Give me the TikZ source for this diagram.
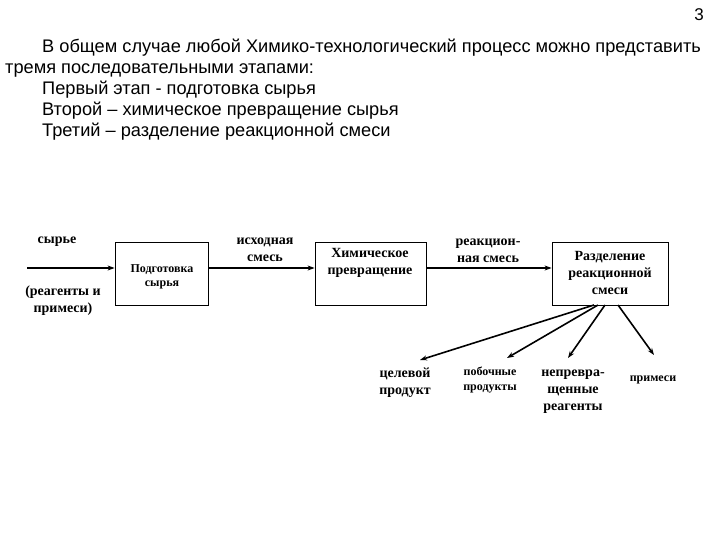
\documentclass[tikz,border=0pt]{standalone}
\usepackage{fontspec}
\setmainfont{Liberation Sans}
\newfontfamily\dfont{Liberation Serif}
\usetikzlibrary{arrows.meta}
\tikzset{
  box/.style={draw, line width=0.8pt, inner sep=0pt},
  arr/.style={line width=1.6pt, -{Stealth[length=7pt,width=5pt]}},
  lbl/.style={align=center, inner sep=0pt, font=\dfont\bfseries\fontsize{14}{17}\selectfont},
  slbl/.style={align=center, inner sep=0pt, font=\dfont\bfseries\fontsize{12}{14.5}\selectfont},
  para/.style={anchor=base west, inner sep=0pt, font=\fontsize{18.2}{21}\selectfont},
}
\begin{document}
\begin{tikzpicture}[x=1pt,y=-1pt]
\useasboundingbox (0,0) rectangle (720,540);
% header text
\node[anchor=base east, inner sep=0pt, font=\fontsize{17}{20}\selectfont] (pg) at (704,21) {3};
\node[para] (t1) at (42,53) {В общем случае любой Химико-технологический процесс можно представить};
\node[para] (t2) at (5,74) {тремя последовательными этапами:};
\node[para] (t3) at (42,95) {Первый этап - подготовка сырья};
\node[para] (t4) at (42,116) {Второй – химическое превращение сырья};
\node[para] (t5) at (42,137) {Третий – разделение реакционной смеси};
% boxes
\node[box, minimum width=93pt, minimum height=63pt] (b1) at (161.5,273.5) {};
\node[box, minimum width=111pt, minimum height=63pt] (b2) at (370.5,273.5) {};
\node[box, minimum width=116pt, minimum height=63pt] (b3) at (610,273.5) {};
\node[slbl] (b1t) at (162,277) {Подготовка\\сырья};
\node[lbl] (b2t) at (370,263) {Химическое\\превращение};
\node[lbl] (b3t) at (610,273) {Разделение\\реакционной\\смеси};
% labels
\node[lbl] (l0) at (57,242) {сырье};
\node[lbl] (l1) at (63,301) {(реагенты и\\примеси)};
\node[lbl] (l2) at (265,250) {исходная\\смесь};
\node[lbl] (l3) at (488,251) {реакцион-\\ная смесь};
\node[lbl] (o1) at (405,383) {целевой\\продукт};
\node[slbl] (o2) at (490,380) {побочные\\продукты};
\node[lbl] (o3) at (573,392) {непревра-\\щенные\\реагенты};
\node[slbl] (o4) at (653,380) {примеси};
% connectors
\coordinate (in) at (27,268);
\coordinate (ly) at (0,268);
\draw[arr] (in) -- (b1.west |- ly);
\draw[arr] (b1.east |- ly) -- (b2.west |- ly);
\draw[arr] (b2.east |- ly) -- (b3.west |- ly);
\coordinate (s1) at (594,305);
\coordinate (s2) at (598,305);
\coordinate (s3) at (605,305);
\coordinate (s4) at (618,305);
\coordinate (e1) at (420,360);
\coordinate (e2) at (507,358);
\coordinate (e3) at (568,358);
\coordinate (e4) at (654,355);
\draw[arr] (s1) -- (e1);
\draw[arr] (s2) -- (e2);
\draw[arr] (s3) -- (e3);
\draw[arr] (s4) -- (e4);
\end{tikzpicture}
\end{document}
